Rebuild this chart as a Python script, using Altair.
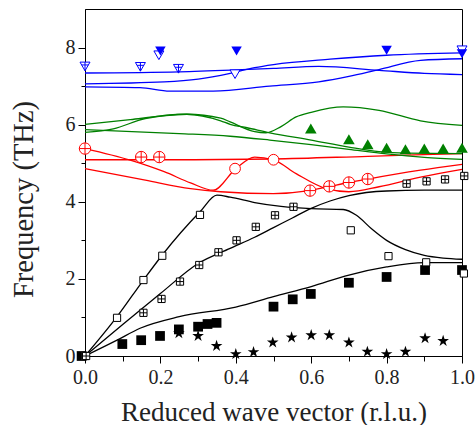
import altair as alt
import pandas as pd

# ---------------- axis ticks ----------------
x_ticks = [0.0, 0.1, 0.2, 0.3, 0.4, 0.5, 0.6, 0.7, 0.8, 0.9, 1.0]
y_ticks = [0, 1, 2, 3, 4, 5, 6, 7, 8]

# ---------------- calculated dispersion curves ----------------
# black (acoustic-like)
k1_x = [0, 0.085, 0.155, 0.205, 0.305, 0.35, 0.385, 0.45, 0.52, 0.6, 0.685, 0.72, 0.76, 0.80, 0.85, 0.90, 0.95, 1.0]
k1_y = [0, 1.02, 1.97, 2.62, 3.74, 4.17, 4.12, 3.98, 3.88, 3.82, 3.80, 3.65, 3.30, 3.00, 2.76, 2.61, 2.54, 2.51]
k2_x = [0, 0.1, 0.2, 0.3, 0.385, 0.45, 0.5, 0.55, 0.6, 0.65, 0.7, 0.8, 0.9, 1.0]
k2_y = [0, 0.82, 1.62, 2.40, 2.79, 3.08, 3.33, 3.58, 3.83, 4.02, 4.16, 4.28, 4.30, 4.30]
k3_x = [0, 0.085, 0.146, 0.25, 0.4, 0.5, 0.6, 0.7, 0.8, 0.9, 1.0]
k3_y = [0, 0.41, 0.72, 1.02, 1.27, 1.54, 1.80, 2.10, 2.31, 2.42, 2.42]
# red
r1_x = [0, 0.25, 0.5, 0.75, 1.0]
r1_y = [5.09, 5.09, 5.11, 5.18, 5.25]
r2_x = [0, 0.12, 0.21, 0.28, 0.34, 0.40, 0.45, 0.50, 0.56, 0.64, 0.70, 0.78, 0.89, 1.0]
r2_y = [5.38, 5.08, 4.78, 4.49, 4.30, 4.86, 5.16, 5.09, 4.73, 4.34, 4.26, 4.39, 4.64, 4.84]
r3_x = [0, 0.16, 0.28, 0.36, 0.5, 0.59, 0.65, 0.70, 0.75, 0.89, 1.0]
r3_y = [4.86, 4.56, 4.34, 4.26, 4.21, 4.28, 4.40, 4.50, 4.59, 4.82, 4.97]
# green
g1_x = [0, 0.12, 0.2, 0.27, 0.36, 0.385, 0.45, 0.48, 0.52, 0.56, 0.6, 0.685, 0.78, 0.89, 1.0]
g1_y = [6.01, 6.13, 6.22, 6.27, 6.17, 6.07, 5.82, 5.79, 5.95, 6.20, 6.32, 6.46, 6.37, 6.10, 5.98]
g2_x = [0, 0.075, 0.16, 0.27, 0.36, 0.385, 0.43, 0.49, 0.6, 0.7, 0.78, 0.85, 1.0]
g2_y = [5.80, 5.89, 6.16, 6.27, 6.10, 6.01, 5.92, 5.79, 5.60, 5.42, 5.30, 5.26, 5.25]
g3_x = [0, 0.25, 0.385, 0.49, 0.6, 0.7, 0.8, 0.9, 1.0]
g3_y = [5.87, 5.77, 5.70, 5.60, 5.48, 5.36, 5.24, 5.15, 5.10]
# blue
b1_x = [0, 0.25, 0.4, 0.5, 0.62, 0.78, 0.9, 1.0]
b1_y = [7.34, 7.37, 7.42, 7.46, 7.51, 7.41, 7.33, 7.30]
b2_x = [0, 0.21, 0.30, 0.385, 0.45, 0.5, 0.65, 0.8, 1.0]
b2_y = [7.06, 7.11, 7.18, 7.33, 7.48, 7.56, 7.70, 7.80, 7.86]
b3_x = [0, 0.146, 0.225, 0.34, 0.49, 0.62, 0.70, 0.78, 0.89, 1.0]
b3_y = [6.98, 6.96, 6.87, 6.87, 7.00, 7.11, 7.25, 7.43, 7.67, 7.71]

# ---------------- measured points ----------------
open_sq_x = [0.0, 0.085, 0.155, 0.205, 0.305, 0.705, 0.805, 0.905, 1.005]
open_sq_y = [0, 0.99, 1.97, 2.60, 3.66, 3.26, 2.59, 2.43, 2.14]
cross_sq_x = [0.003, 0.155, 0.203, 0.252, 0.303, 0.354, 0.402, 0.453, 0.504, 0.553, 0.853, 0.906, 0.955, 1.006]
cross_sq_y = [0, 1.12, 1.48, 1.93, 2.36, 2.69, 3.0, 3.35, 3.65, 3.87, 4.47, 4.53, 4.58, 4.67]
fill_sq_x = [-0.009, 0.099, 0.149, 0.199, 0.249, 0.30, 0.325, 0.349, 0.50, 0.551, 0.599, 0.70, 0.80, 0.902, 1.0]
fill_sq_y = [0, 0.31, 0.41, 0.52, 0.69, 0.76, 0.83, 0.86, 1.28, 1.47, 1.61, 1.90, 2.05, 2.23, 2.23]
star_x = [0.249, 0.30, 0.349, 0.40, 0.447, 0.498, 0.548, 0.60, 0.648, 0.70, 0.749, 0.80, 0.85, 0.902, 0.95]
star_y = [0.59, 0.52, 0.26, 0.05, 0.10, 0.35, 0.48, 0.54, 0.54, 0.35, 0.11, 0.05, 0.11, 0.46, 0.39]
red_cross_x = [0.0, 0.149, 0.197, 0.597, 0.648, 0.70, 0.75]
red_cross_y = [5.38, 5.16, 5.16, 4.29, 4.40, 4.50, 4.59]
red_open_x = [0.398, 0.50]
red_open_y = [4.86, 5.09]
green_tri_x = [0.599, 0.70, 0.75, 0.80, 0.85, 0.90, 0.95, 1.0]
green_tri_y = [5.90, 5.62, 5.49, 5.40, 5.36, 5.38, 5.38, 5.40]
blue_cross_x = [0.0, 0.147, 0.248]
blue_cross_y = [7.51, 7.50, 7.45]
blue_open_x = [0.196, 0.398, 1.0]
blue_open_y = [7.80, 7.31, 7.93]
blue_fill_x = [0.2, 0.402, 0.80, 1.0]
blue_fill_y = [7.91, 7.91, 7.93, 7.84]

# ---------------- build tables ----------------
curves = [
    ("k1", k1_x, k1_y, "#000000"), ("k2", k2_x, k2_y, "#000000"), ("k3", k3_x, k3_y, "#000000"),
    ("r1", r1_x, r1_y, "#ff0000"), ("r2", r2_x, r2_y, "#ff0000"), ("r3", r3_x, r3_y, "#ff0000"),
    ("g1", g1_x, g1_y, "#008000"), ("g2", g2_x, g2_y, "#008000"), ("g3", g3_x, g3_y, "#008000"),
    ("b1", b1_x, b1_y, "#0000ff"), ("b2", b2_x, b2_y, "#0000ff"), ("b3", b3_x, b3_y, "#0000ff"),
]
rows = []
for name, xs, ys, col in curves:
    for i, (xv, yv) in enumerate(zip(xs, ys)):
        rows.append({"x": xv, "y": yv, "curve": name, "color": col, "i": i})
lines_df = pd.DataFrame(rows)

def pts(xs, ys):
    return pd.DataFrame({"x": xs, "y": ys})

FONT = "Liberation Serif"
TXT = "#222222"

X = alt.X("x:Q",
          scale=alt.Scale(domain=[0, 1], nice=False, zero=False),
          axis=alt.Axis(values=x_ticks, grid=False, labelFlush=False, labelOverlap=False,
                        labelExpr="round(datum.value*10) % 2 == 0 ? format(datum.value, '.1f') : ''",
                        tickSize={"condition": {"test": "round(datum.value*10) % 2 == 1", "value": 5}, "value": 7},
                        labelPadding=4,
                        title="Reduced wave vector (r.l.u.)", titleFontSize=27,
                        titleX=188.5, titleY=64, titleBaseline="alphabetic", titleAlign="center"))
Y = alt.Y("y:Q",
          scale=alt.Scale(domain=[0, 9], nice=False, zero=False),
          axis=alt.Axis(values=y_ticks, grid=False, labelFlush=False, labelOverlap=False,
                        labelExpr="datum.value % 2 == 0 ? datum.label : ''",
                        tickSize={"condition": {"test": "datum.value % 2 == 1", "value": 4}, "value": 7},
                        labelPadding=3,
                        title="Frequency (THz)", titleFontSize=28.5,
                        titleX=-53, titleY=190, titleAngle=-90, titleBaseline="alphabetic",
                        titleAlign="center"))

lines = alt.Chart(lines_df).mark_line(interpolate="monotone", strokeWidth=1.3).encode(
    x=X, y=Y, detail="curve:N", order="i:Q", color=alt.Color("color:N", scale=None))

STAR = ("M0,-1 L0.2245,-0.309 L0.951,-0.309 L0.363,0.118 L0.588,0.809 L0,0.382 "
        "L-0.588,0.809 L-0.363,0.118 L-0.951,-0.309 L-0.2245,-0.309 Z")
CROSS_SQ = "M-1,-1 L1,-1 L1,1 L-1,1 Z M0,-1 L0,1 M-1,0 L1,0"
CROSS_CIRC = "M-1,0 A1,1 0 1,1 1,0 A1,1 0 1,1 -1,0 Z M-1,0 L1,0 M0,-1 L0,1"
CROSS_TRI = "M-1,-0.866 L1,-0.866 L0,0.866 Z M0,-0.866 L0,0.866 M-0.67,-0.3 L0.67,-0.3"

def layer(xs, ys, shape, size, fill, stroke, sw=1.0):
    return alt.Chart(pts(xs, ys)).mark_point(
        shape=shape, size=size, fill=fill, stroke=stroke, strokeWidth=sw,
        filled=True, opacity=1, fillOpacity=1).encode(x=X, y=Y)

layers = [
    lines,
    layer(fill_sq_x, fill_sq_y, "square", 95, "#000000", "#000000", 0),
    layer(star_x, star_y, STAR, 150, "#000000", "#000000", 0),
    layer(open_sq_x, open_sq_y, "square", 52, "#ffffff", "#000000"),
    layer(cross_sq_x, cross_sq_y, CROSS_SQ, 52, "#ffffff", "#000000"),
    layer(red_open_x, red_open_y, "circle", 115, "#ffffff", "#ff0000"),
    layer(red_cross_x, red_cross_y, CROSS_CIRC, 130, "#ffffff", "#ff0000"),
    layer(green_tri_x, green_tri_y, "triangle-up", 135, "#008000", "#008000", 0),
    layer(blue_cross_x, blue_cross_y, CROSS_TRI, 100, "#ffffff", "#0000ff"),
    layer(blue_open_x, blue_open_y, "triangle-down", 100, "#ffffff", "#0000ff"),
    layer(blue_fill_x, blue_fill_y, "triangle-down", 110, "#0000ff", "#0000ff", 0),
]

chart = alt.layer(*layers).properties(
    width=377, height=347,
    autosize=alt.AutoSizeParams(type="none"),
    padding={"left": 85, "top": 9, "right": 14, "bottom": 69},
    background="white",
).configure_view(stroke="black", strokeWidth=1).configure_axis(
    domainColor="black", domainWidth=1, tickColor="black", tickWidth=1,
    labelFont=FONT, labelFontSize=20, labelColor=TXT,
    titleFont=FONT, titleFontWeight="normal", titleColor=TXT,
)

chart.save("out.html", embed_options={"renderer": "svg", "actions": False})
